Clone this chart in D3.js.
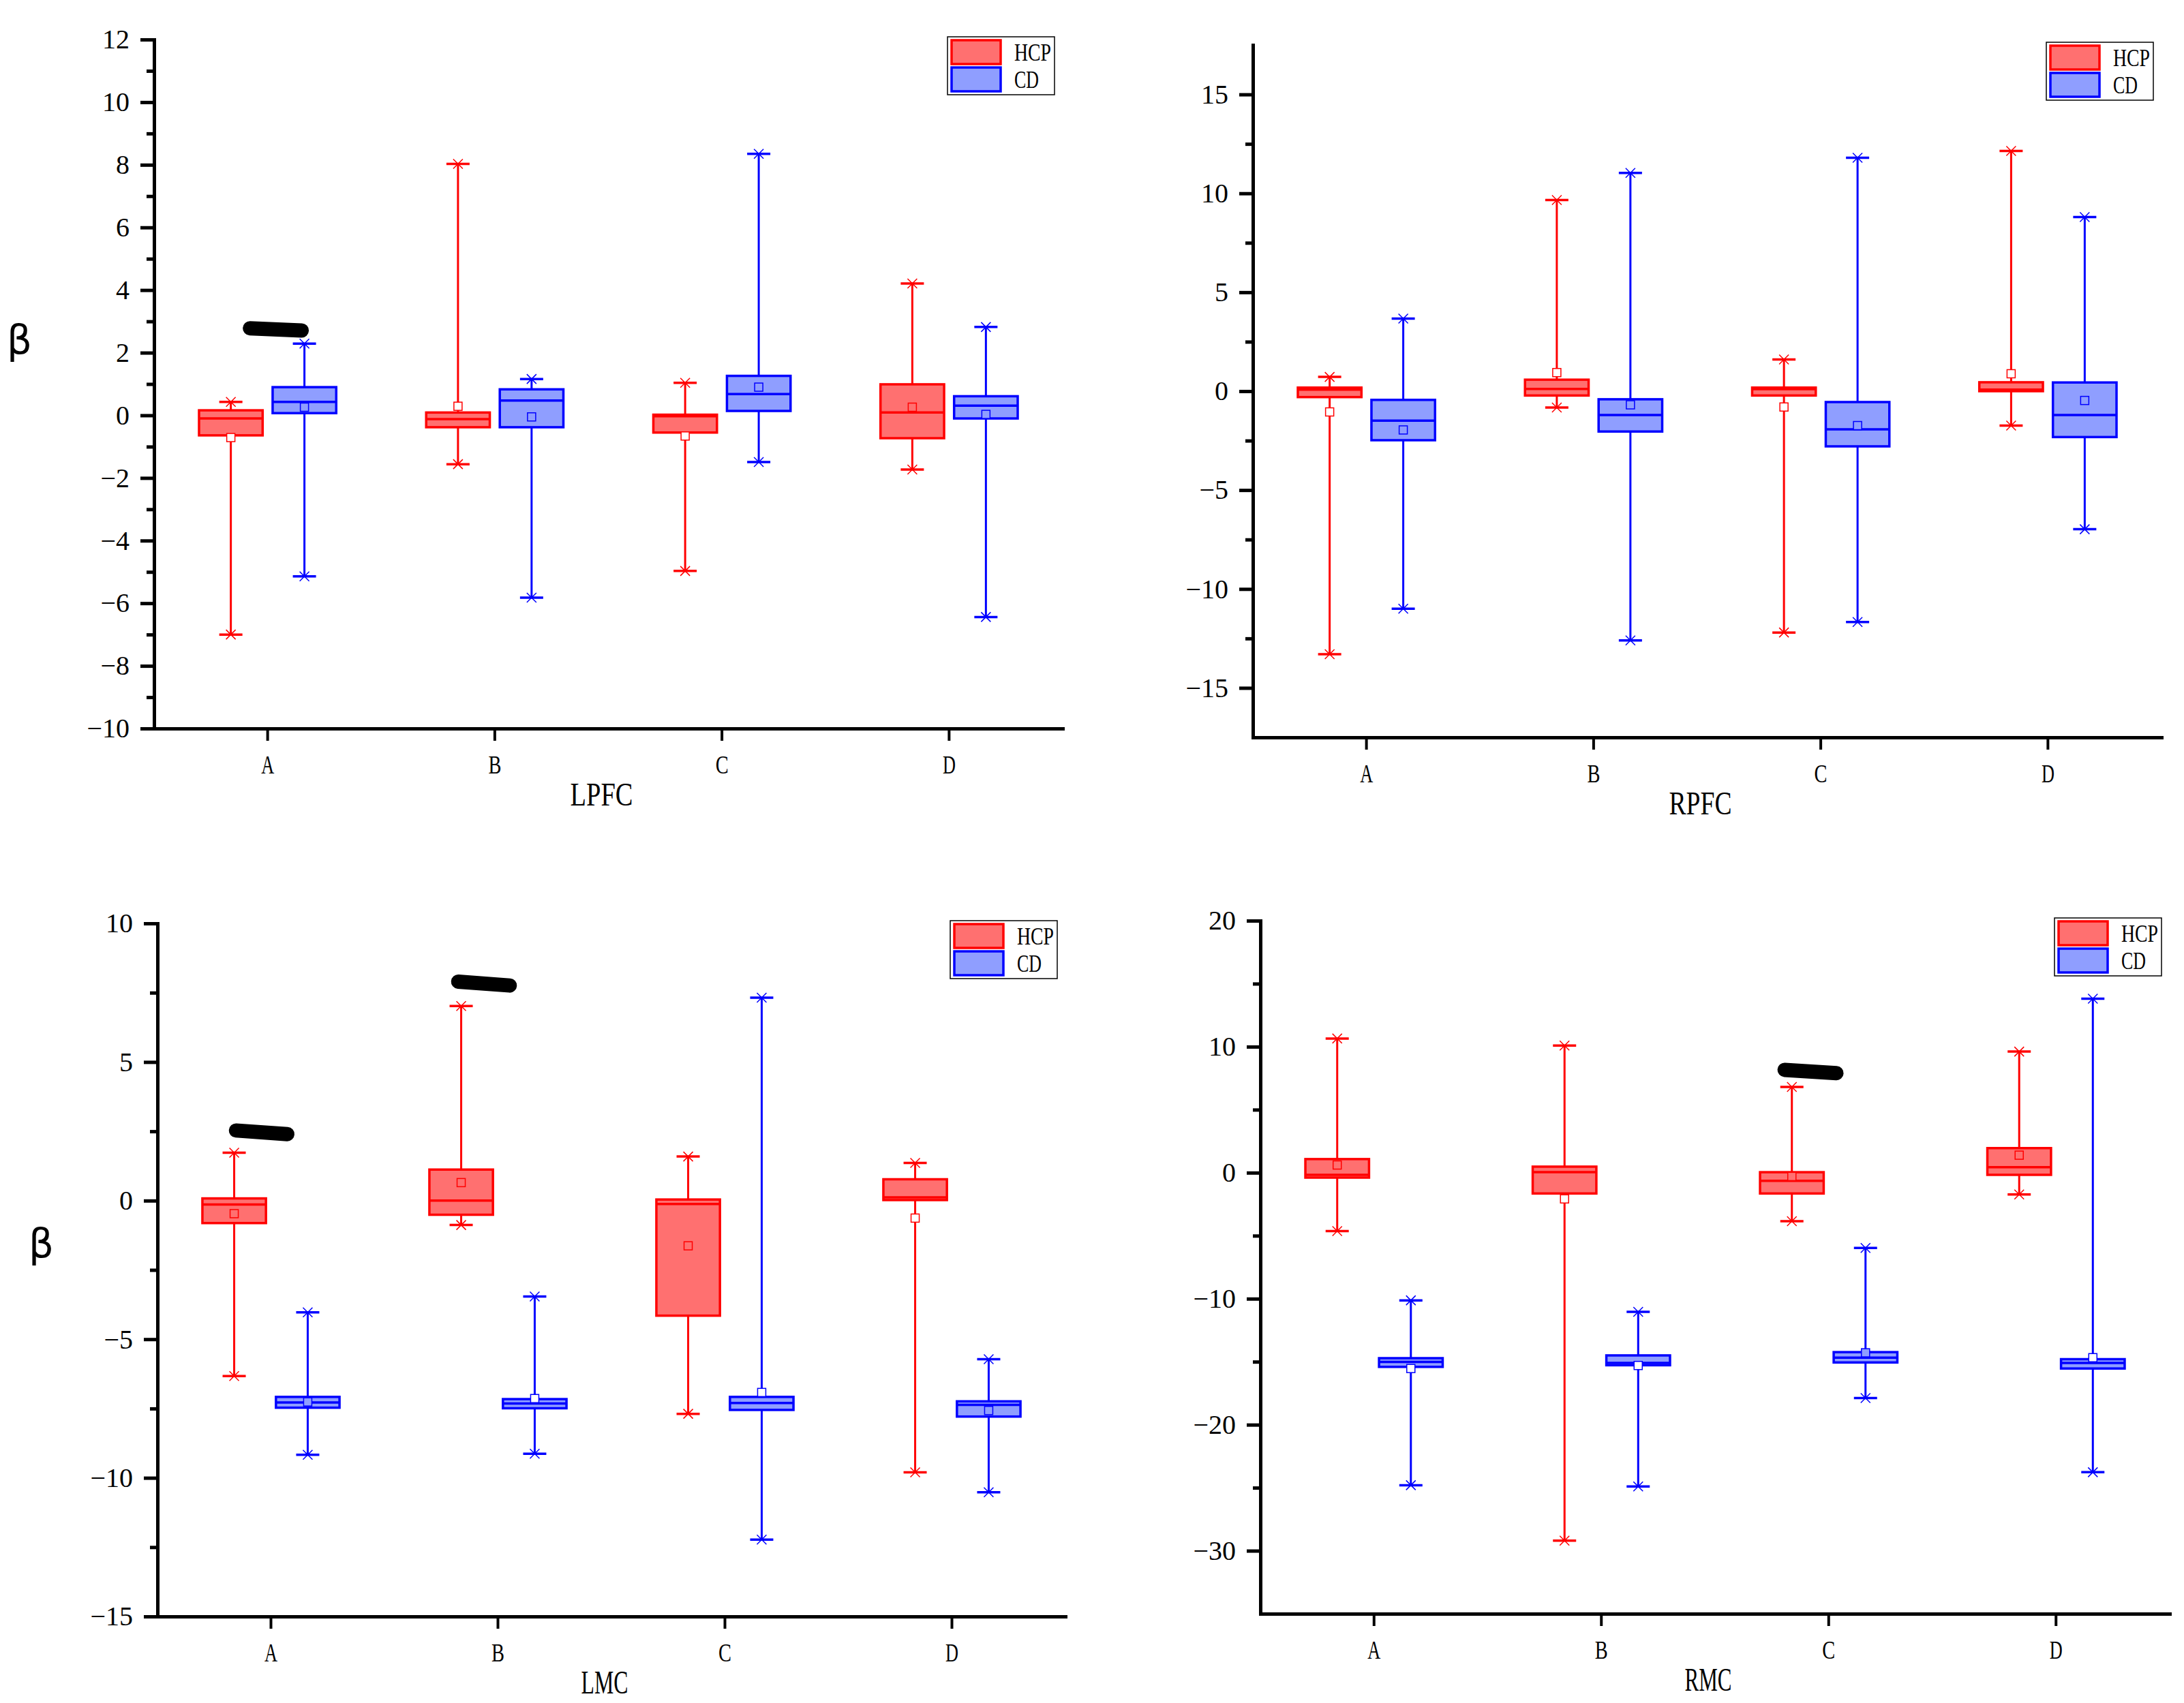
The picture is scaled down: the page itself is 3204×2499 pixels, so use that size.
<!DOCTYPE html>
<html>
<head>
<meta charset="utf-8">
<script src="https://cdn.jsdelivr.net/npm/d3@7"></script>
<style>
  html, body { margin: 0; padding: 0; background: #ffffff; }
  svg { display: block; }
</style>
</head>
<body>
<script>
// ---------------- DATA ----------------
const categories = ["A", "B", "C", "D"];
const seriesNames = ["HCP", "CD"];
// each row: [min, q1, median, q3, max, mean]
const lpfcHCP = [
  [-7.00, -0.64, -0.10, 0.16, 0.43, -0.71],
  [-1.56, -0.38, -0.12, 0.09, 8.03, 0.29],
  [-4.97, -0.55, -0.03, 0.02, 1.04, -0.66],
  [-1.73, -0.73, 0.09, 0.99, 4.21, 0.26]
];
const lpfcCD = [
  [-5.14, 0.07, 0.43, 0.90, 2.29, 0.26],
  [-5.82, -0.38, 0.47, 0.83, 1.16, -0.05],
  [-1.49, 0.14, 0.68, 1.26, 8.35, 0.90],
  [-6.44, -0.10, 0.31, 0.61, 2.82, 0.03]
];
const rpfcHCP = [
  [-13.30, -0.30, 0.08, 0.18, 0.72, -1.05],
  [-0.83, -0.22, 0.11, 0.58, 9.66, 0.94],
  [-12.20, -0.22, 0.10, 0.18, 1.60, -0.80],
  [-1.74, 0.00, 0.08, 0.45, 12.14, 0.88]
];
const rpfcCD = [
  [-11.00, -2.48, -1.49, -0.44, 3.67, -1.96],
  [-12.60, -2.04, -1.21, -0.41, 11.03, -0.69],
  [-11.67, -2.79, -1.93, -0.55, 11.80, -1.74],
  [-6.98, -2.32, -1.21, 0.44, 8.80, -0.47]
];
const lmcHCP = [
  [-6.33, -0.81, -0.14, 0.08, 1.73, -0.47],
  [-0.88, -0.51, 0.00, 1.12, 7.02, 0.65],
  [-7.69, -4.15, -0.12, 0.04, 1.59, -1.63],
  [-9.80, 0.02, 0.12, 0.77, 1.36, -0.63]
];
const lmcCD = [
  [-9.17, -7.47, -7.28, -7.08, -4.03, -7.26],
  [-9.13, -7.49, -7.32, -7.16, -3.46, -7.14],
  [-12.23, -7.55, -7.30, -7.08, 7.32, -6.92],
  [-10.52, -7.79, -7.37, -7.24, -5.72, -7.57]
];
const rmcHCP = [
  [-4.63, -0.39, -0.17, 1.08, 10.65, 0.61],
  [-29.20, -1.65, 0.04, 0.48, 10.09, -2.08],
  [-3.85, -1.65, -0.65, 0.04, 6.80, -0.30],
  [-1.73, -0.17, 0.43, 1.95, 9.61, 1.39]
];
const rmcCD = [
  [-24.80, -15.41, -15.02, -14.72, -10.13, -15.54],
  [-24.90, -15.28, -15.10, -14.50, -11.04, -15.30],
  [-17.88, -15.06, -14.68, -14.24, -5.97, -14.29],
  [-23.77, -15.54, -15.10, -14.80, 13.81, -14.68]
];
// tick labels
const lpfcTicks = [-10, -8, -6, -4, -2, 0, 2, 4, 6, 8, 10, 12];
const lpfcMinor = [-9, -7, -5, -3, -1, 1, 3, 5, 7, 9, 11];
const rpfcTicks = [-15, -10, -5, 0, 5, 10, 15];
const rpfcMinor = [-12.5, -7.5, -2.5, 2.5, 7.5, 12.5];
const lmcTicks = [-15, -10, -5, 0, 5, 10];
const lmcMinor = [-12.5, -7.5, -2.5, 2.5, 7.5];
const rmcTicks = [-30, -20, -10, 0, 10, 20];
const rmcMinor = [-25, -15, -5, 5, 15];
// black hand-drawn marks: [category, value at left end, value at right end]
const lpfcMarks = [["A", 2.78, 2.71]];
const lmcMarks = [["A", 2.53, 2.40], ["B", 7.90, 7.76]];
const rmcMarks = [["C", 8.16, 7.90]];
const noMarks = [];

// ---------------- LAYOUT ----------------
const W = 3204, H = 2499;
const colors = {
  HCP: { stroke: "#FF0000", fill: "#FF7070" },
  CD: { stroke: "#0000FF", fill: "#8F9EFF" }
};
// horizontal extents of marks (fraction of band, relative to category centre)
const markSpan = {
  lpfc: [[-0.078, 0.150]],
  lmc: [[-0.154, 0.072], [-0.175, 0.052]],
  rmc: [[-0.194, 0.034]],
  rpfc: []
};

const panels = [
  { key: "lpfc", title: "LPFC", hcp: lpfcHCP, cd: lpfcCD, domain: [-10, 12], ticks: lpfcTicks, minor: lpfcMinor,
    x0: 226, x1: 1559, yTop: 58, yBot: 1069, beta: [10, 519], marks: lpfcMarks },
  { key: "rpfc", title: "RPFC", hcp: rpfcHCP, cd: rpfcCD, domain: [-17.5, 17.5], ticks: rpfcTicks, minor: rpfcMinor,
    x0: 1838, x1: 3171, yTop: 66, yBot: 1082, beta: null, marks: noMarks },
  { key: "lmc", title: "LMC", hcp: lmcHCP, cd: lmcCD, domain: [-15, 10], ticks: lmcTicks, minor: lmcMinor,
    x0: 231, x1: 1563, yTop: 1355, yBot: 2372, beta: [42, 1845], marks: lmcMarks },
  { key: "rmc", title: "RMC", hcp: rmcHCP, cd: rmcCD, domain: [-35, 20], ticks: rmcTicks, minor: rmcMinor,
    x0: 1849, x1: 3183, yTop: 1351, yBot: 2368, beta: null, marks: rmcMarks }
];

const serif = "'Liberation Serif', 'Times New Roman', serif";

const svg = d3.select("body").append("svg")
  .attr("width", W).attr("height", H)
  .attr("viewBox", `0 0 ${W} ${H}`);
svg.append("rect").attr("width", W).attr("height", H).attr("fill", "#fff");

panels.forEach(p => {
  const x = d3.scaleBand().domain(categories).range([p.x0, p.x1]).padding(0);
  const y = d3.scaleLinear().domain(p.domain).range([p.yBot, p.yTop]);
  const bw = x.bandwidth();
  const g = svg.append("g");

  // minor y ticks
  g.append("g")
    .attr("transform", `translate(${p.x0},0)`)
    .call(d3.axisLeft(y).tickValues(p.minor).tickSize(11).tickFormat(""))
    .call(s => s.select(".domain").remove())
    .call(s => s.selectAll("line").attr("stroke", "#000").attr("stroke-width", 5));

  // major y axis
  const ya = g.append("g")
    .attr("transform", `translate(${p.x0},0)`)
    .call(d3.axisLeft(y).tickValues(p.ticks).tickSize(20).tickPadding(16).tickSizeOuter(0));
  ya.select(".domain").attr("stroke", "#000").attr("stroke-width", 5).attr("stroke-linecap", "square");
  ya.selectAll("line").attr("stroke", "#000").attr("stroke-width", 5);
  ya.selectAll("text").attr("font-family", serif).attr("font-size", 40).attr("fill", "#000");

  // x axis
  const xa = g.append("g")
    .attr("transform", `translate(0,${p.yBot})`)
    .call(d3.axisBottom(x).tickSize(18).tickPadding(21).tickSizeOuter(0));
  xa.select(".domain").attr("stroke", "#000").attr("stroke-width", 5).attr("stroke-linecap", "square");
  xa.selectAll("line").attr("stroke", "#000").attr("stroke-width", 4);
  xa.selectAll("text").attr("font-family", serif).attr("font-size", 38).attr("fill", "#000")
    .attr("textLength", 19).attr("lengthAdjust", "spacingAndGlyphs");

  // axis title
  g.append("text")
    .attr("x", (p.x0 + p.x1) / 2 - 10).attr("y", p.yBot + 113)
    .attr("text-anchor", "middle")
    .attr("font-family", serif).attr("font-size", 48)
    .attr("textLength", p.title.length * 23).attr("lengthAdjust", "spacingAndGlyphs")
    .text(p.title);

  if (p.beta) {
    g.append("text")
      .attr("x", p.beta[0]).attr("y", p.beta[1])
      .attr("font-family", "'DejaVu Sans', sans-serif").attr("font-size", 58)
      .text("β");
  }

  // boxes
  const groups = [p.hcp, p.cd];
  groups.forEach((rows, k) => {
    const name = seriesNames[k];
    const c = colors[name];
    const off = (k === 0 ? -0.162 : 0.162) * bw;
    const boxW = 0.28 * bw;
    const capW = 34;
    rows.forEach((r, i) => {
      const [mn, q1, md, q3, mx, mean] = r;
      const cx = x(categories[i]) + bw / 2 + off;
      const bg = g.append("g");
      // whisker
      bg.append("line").attr("x1", cx).attr("x2", cx).attr("y1", y(mn)).attr("y2", y(mx))
        .attr("stroke", c.stroke).attr("stroke-width", 3);
      // box
      bg.append("rect")
        .attr("x", cx - boxW / 2).attr("y", y(q3))
        .attr("width", boxW).attr("height", Math.max(0.5, y(q1) - y(q3)))
        .attr("fill", c.fill).attr("stroke", c.stroke).attr("stroke-width", 3.5);
      // median
      bg.append("line").attr("x1", cx - boxW / 2).attr("x2", cx + boxW / 2)
        .attr("y1", y(md)).attr("y2", y(md))
        .attr("stroke", c.stroke).attr("stroke-width", 3.5);
      // caps + markers
      [mn, mx].forEach(v => {
        const yy = y(v);
        bg.append("line").attr("x1", cx - capW / 2).attr("x2", cx + capW / 2)
          .attr("y1", yy).attr("y2", yy)
          .attr("stroke", c.stroke).attr("stroke-width", 3.5);
        const s = 7;
        bg.append("path")
          .attr("d", `M${cx - s},${yy - s}L${cx + s},${yy + s}M${cx - s},${yy + s}L${cx + s},${yy - s}`)
          .attr("stroke", c.stroke).attr("stroke-width", 1.5).attr("fill", "none");
      });
      // mean
      const inside = mean >= q1 && mean <= q3;
      bg.append("rect")
        .attr("x", cx - 6).attr("y", y(mean) - 6).attr("width", 12).attr("height", 12)
        .attr("fill", inside ? c.fill : "#fff")
        .attr("stroke", c.stroke).attr("stroke-width", 1.5);
    });
  });

  // black marks
  p.marks.forEach((m, j) => {
    const span = markSpan[p.key][j];
    const cc = x(m[0]) + bw / 2;
    g.append("line")
      .attr("x1", cc + span[0] * bw).attr("x2", cc + span[1] * bw)
      .attr("y1", y(m[1])).attr("y2", y(m[2]))
      .attr("stroke", "#000").attr("stroke-width", 21).attr("stroke-linecap", "round");
  });

  // legend
  const lw = 157, lh = 85;
  const lx = p.x1 - 12 - lw, ly = p.yTop - 4;
  const lg = g.append("g").attr("transform", `translate(${lx},${ly})`);
  lg.append("rect").attr("width", lw).attr("height", lh)
    .attr("fill", "#fff").attr("stroke", "#000").attr("stroke-width", 1.5);
  seriesNames.forEach((name, k) => {
    const c = colors[name];
    const sy = 5 + k * 40;
    lg.append("rect").attr("x", 6).attr("y", sy).attr("width", 72).attr("height", 35)
      .attr("fill", c.fill).attr("stroke", c.stroke).attr("stroke-width", 3.5);
    lg.append("text").attr("x", 98).attr("y", sy + 17.5).attr("dy", "0.35em")
      .attr("font-family", serif).attr("font-size", 36)
      .attr("textLength", name.length * 18).attr("lengthAdjust", "spacingAndGlyphs")
      .text(name);
  });
});
</script>
</body>
</html>
